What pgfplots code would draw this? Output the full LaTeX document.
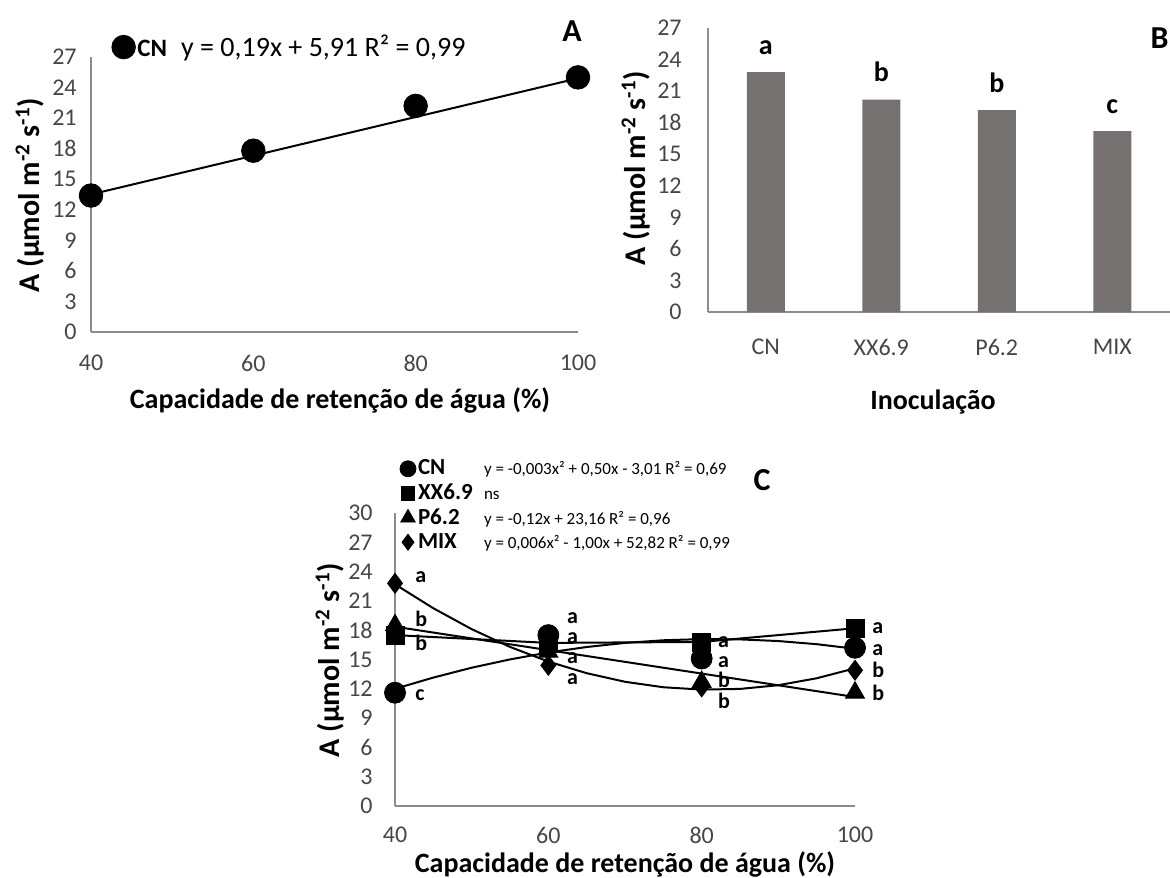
\documentclass[border=0pt]{standalone}
\usepackage{fontspec}
\setmainfont{Carlito}
\usepackage{pgfplots}
\pgfplotsset{compat=1.18}
\definecolor{axgray}{RGB}{140,140,140}
\definecolor{tickgray}{RGB}{70,70,70}
\definecolor{bargray}{RGB}{118,113,113}
\pgfplotsset{
  excel/.style={
    scale only axis,
    axis lines*=left,
    axis line style={axgray, line width=1pt, -},
    major tick length=0pt,
    tick style={draw=none},
    /pgf/number format/assume math mode=true,
    ticklabel style={font=\fontsize{12}{14}\selectfont, text=tickgray, inner sep=0pt},
    clip=false,
  },
  markleg/.style={legend image code/.code={\draw plot coordinates {(0pt,0pt)};}},
  markleg small/.style={legend image code/.code={\draw[mark size=#1] plot coordinates {(0pt,0pt)};}},
}
\newcommand{\ylab}{A (µmol m\textsuperscript{-2} s\textsuperscript{-1})}
\newcommand{\titfont}{\bfseries\fontsize{14}{16}\selectfont}
\newcommand{\ytitfont}{\bfseries\fontsize{15}{17}\selectfont}
\newcommand{\lt}[3]{\node[anchor=west, inner sep=0pt, font=\bfseries\fontsize{11}{12}\selectfont] at (axis cs:#1,#2) {#3};}
\newcommand{\nm}[1]{\makebox[33pt][l]{\bfseries\fontsize{11.5}{13}\selectfont #1}}
\begin{document}
\begin{tikzpicture}
\path[use as bounding box] (0,0) rectangle (585pt,-438.5pt);

% ---------------- Panel A
\begin{axis}[excel,
  at={(45.5pt,-166pt)}, anchor=south west,
  width=243.5pt, height=137.5pt,
  xmin=40, xmax=100, ymin=0, ymax=27,
  xtick={40,60,80,100}, ytick={0,3,...,27},
  xticklabel style={anchor=center, yshift=-15.5pt},
  yticklabel style={anchor=east, xshift=-7pt},
  legend style={at={(axis description cs:0.042,1.036)}, anchor=west, draw=none, fill=none, inner sep=0pt,
     font=\fontsize{14}{16}\selectfont, nodes={inner sep=1pt}},
]
\addplot[black, line width=1pt, forget plot] coordinates {(40,13.51) (100,24.91)};
\addplot[only marks, mark=*, mark size=5.9pt, black, markleg] coordinates {(40,13.4) (60,17.8) (80,22.2) (100,25.0)};
\addlegendentry{{\bfseries\fontsize{12.5}{14}\selectfont CN}\enspace y = 0,19x + 5,91 R² = 0,99}
\end{axis}
\node[font=\ytitfont, rotate=90] at (15pt,-97.5pt) {\ylab};
\node[font=\titfont] at (170pt,-200pt) {Capacidade de retenção de água (\%)};
\node[font=\bfseries\fontsize{16}{18}\selectfont] at (286pt,-15.5pt) {A};

% ---------------- Panel B
\begin{axis}[excel,
  at={(354pt,-156pt)}, anchor=south west,
  width=231pt, height=142pt,
  xmin=-0.5, xmax=3.5, ymin=0, ymax=27,
  xtick={0,1,2,3}, xticklabels={CN,XX6.9,P6.2,MIX},
  ytick={0,3,...,27},
  xticklabel style={anchor=center, yshift=-17.5pt},
  yticklabel style={anchor=east, xshift=-13pt},
  ybar, bar width=19pt,
]
\addplot[fill=bargray, draw=none,
  nodes near coords, point meta=explicit symbolic,
  nodes near coords style={anchor=base, yshift=9pt, text=black, font=\bfseries\fontsize{14}{16}\selectfont}]
  table[meta=lab] {
x y lab
0 22.8 a
1 20.2 b
2 19.2 b
3 17.2 c
};
\end{axis}
\node[font=\ytitfont, rotate=90] at (318pt,-84pt) {\ylab};
\node[font=\titfont] at (466.5pt,-201pt) {Inoculação};
\node[font=\bfseries\fontsize{16}{18}\selectfont, anchor=east, inner sep=0pt] at (584.5pt,-19pt) {B};

% ---------------- Panel C
\begin{axis}[excel,
  at={(197.5pt,-403pt)}, anchor=south west,
  width=230pt, height=146.5pt,
  xmin=40, xmax=100, ymin=0, ymax=30,
  xtick={40,60,80,100}, ytick={0,3,...,30},
  xticklabel style={anchor=center, yshift=-14.5pt},
  yticklabel style={anchor=east, xshift=-11pt},
  legend style={at={(axis description cs:0.01,1.19)}, anchor=north west, draw=none, fill=none, inner sep=0pt,
     font=\fontsize{8.5}{10}\selectfont, row sep=1pt, nodes={inner sep=1pt}},
  legend cell align=left,
]
% trend lines
\addplot[black, line width=1pt, forget plot] coordinates {
(40,12.00) (45,13.15) (50,14.16) (55,15.01) (60,15.72) (65,16.28) (70,16.70)
(75,16.97) (80,17.09) (85,17.06) (90,16.89) (95,16.57) (100,16.10)};
\addplot[black, line width=1pt, forget plot] coordinates {(40,17.5) (60,16.7) (80,16.8) (100,18.2)};
\addplot[black, line width=1pt, forget plot] coordinates {(40,18.36) (100,11.16)};
\addplot[black, line width=1pt, forget plot] coordinates {
(40,22.70) (45,20.25) (50,18.11) (55,16.29) (60,14.79) (65,13.60) (70,12.72)
(75,12.16) (80,11.92) (85,11.99) (90,12.37) (95,13.08) (100,14.10)};
% markers
\addplot[only marks, mark=*, mark size=5.25pt, black, markleg small=4pt] coordinates {(40,11.6) (60,17.5) (80,15.1) (100,16.2)};
\addlegendentry{\nm{CN}y = -0,003x² + 0,50x - 3,01 R² = 0,69}
\addplot[only marks, mark=square*, mark size=4.5pt, black, markleg small=3.4pt] coordinates {(40,17.5) (60,16.7) (80,16.8) (100,18.2)};
\addlegendentry{\nm{XX6.9}ns}
\addplot[only marks, mark=triangle*, mark size=5.5pt, black, markleg small=4.2pt] coordinates {(40,18.5) (60,15.8) (80,12.7) (100,11.6)};
\addlegendentry{\nm{P6.2}y = -0,12x + 23,16 R² = 0,96}
\addplot[only marks, mark=diamond*, mark size=5pt, black, markleg small=4pt] coordinates {(40,22.8) (60,14.4) (80,12.2) (100,13.9)};
\addlegendentry{\nm{MIX}y = 0,006x² - 1,00x + 52,82 R² = 0,99}
% letters
\lt{42.6}{23.4}{a}\lt{42.6}{19.2}{b}\lt{42.6}{16.7}{b}\lt{42.6}{11.4}{c}
\lt{62.4}{19.2}{a}\lt{62.4}{17.2}{a}\lt{62.4}{15.1}{a}\lt{62.4}{13.0}{a}
\lt{82.1}{16.8}{a}\lt{82.1}{14.7}{a}\lt{82.1}{12.9}{b}\lt{82.1}{10.8}{b}
\lt{102.2}{18.2}{a}\lt{102.2}{16.0}{a}\lt{102.2}{13.9}{b}\lt{102.2}{11.6}{b}
\end{axis}
\node[font=\ytitfont, rotate=90] at (165pt,-330pt) {\ylab};
\node[font=\titfont] at (312.5pt,-432pt) {Capacidade de retenção de água (\%)};
\node[font=\bfseries\fontsize{16}{18}\selectfont] at (381pt,-240pt) {C};
\end{tikzpicture}
\end{document}
